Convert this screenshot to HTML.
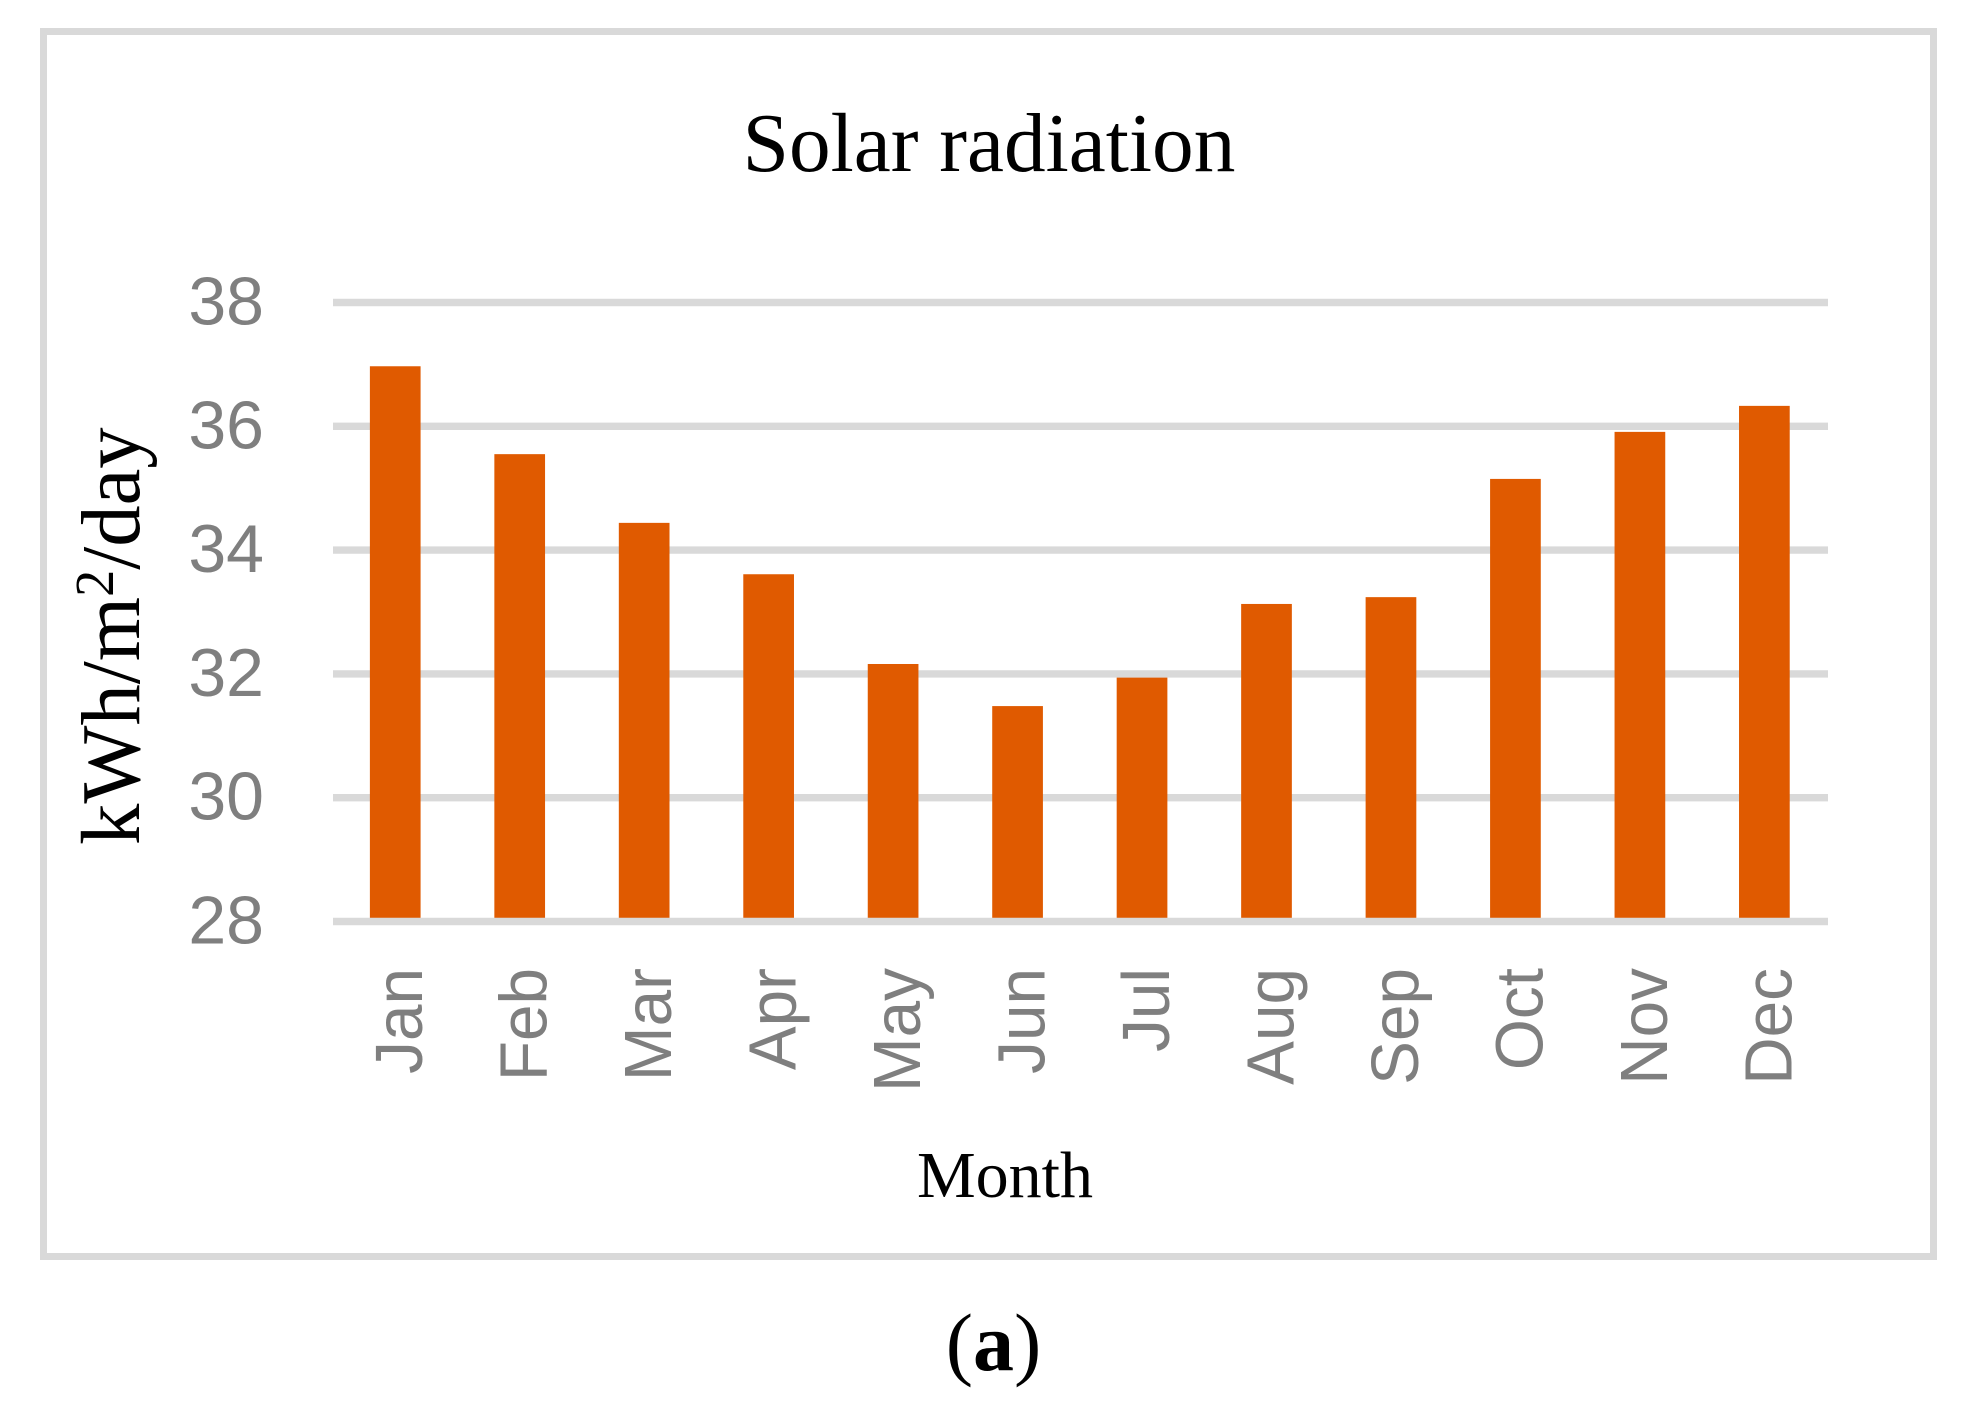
<!DOCTYPE html>
<html lang="en">
<head>
<meta charset="utf-8">
<title>Solar radiation</title>
<style>
  html, body { margin: 0; padding: 0; background: #ffffff; }
  body { width: 1961px; height: 1410px; overflow: hidden; }
  svg { display: block; }
  .serif { font-family: "Liberation Serif", serif; fill: #000000; }
  .tick { font-family: "Liberation Sans", sans-serif; fill: #7f7f7f; }
</style>
</head>
<body>
<svg id="chart" xmlns="http://www.w3.org/2000/svg" width="1961" height="1410" viewBox="0 0 1961 1410">
  <rect x="0" y="0" width="1961" height="1410" fill="#ffffff"/>
  <rect x="43.5" y="31.5" width="1890" height="1225" fill="#ffffff" stroke="#d9d9d9" stroke-width="7"/>
  <g id="gridlines"></g>
  <g id="bars"></g>
  <g id="baseline"></g>
  <g id="yticks"></g>
  <g id="xticks"></g>
  <text class="serif" x="989" y="171" font-size="83.3" text-anchor="middle">Solar radiation</text>
  <text class="serif" transform="translate(139 845) rotate(-90) scale(0.985 1)" font-size="84" text-anchor="start">kWh/m<tspan font-size="55" dy="-26">2</tspan><tspan dy="26">/day</tspan></text>
  <text class="serif" x="1005" y="1197" font-size="66" text-anchor="middle">Month</text>
  <text class="serif" x="993.5" y="1370" font-size="82" text-anchor="middle">(<tspan font-weight="bold">a</tspan>)</text>
</svg>
<script>
const categories = ["Jan", "Feb", "Mar", "Apr", "May", "Jun", "Jul", "Aug", "Sep", "Oct", "Nov", "Dec"];
const radiationValues = [36.97, 35.55, 34.44, 33.61, 32.16, 31.48, 31.94, 33.13, 33.24, 35.15, 35.91, 36.33];
const yTickValues = [28, 30, 32, 34, 36, 38];

const SVG_NS = "http://www.w3.org/2000/svg";
const plot = { left: 333, right: 1828, top: 302.5, bottom: 921.5 };
const bandLeft = 333;
const bandRight = 1826.6;
const yMin = 28;
const yMax = 38;
const barWidth = 50.7;

function yScale(v) {
  return plot.bottom - (v - yMin) / (yMax - yMin) * (plot.bottom - plot.top);
}
function xCenter(i) {
  return bandLeft + (i + 0.5) * (bandRight - bandLeft) / categories.length;
}
function make(tag, attrs, parent) {
  const el = document.createElementNS(SVG_NS, tag);
  for (const key in attrs) el.setAttribute(key, attrs[key]);
  parent.appendChild(el);
  return el;
}

const gridGroup = document.getElementById("gridlines");
const barGroup = document.getElementById("bars");
const baseGroup = document.getElementById("baseline");
const yGroup = document.getElementById("yticks");
const xGroup = document.getElementById("xticks");

yTickValues.forEach(function (t) {
  const target = t === yMin ? baseGroup : gridGroup;
  const line = make("line", { x1: plot.left, x2: plot.right, y1: yScale(t), y2: yScale(t), stroke: "#d9d9d9", "stroke-width": 7.4 }, target);
  
  

  const label = make("text", { x: 264, y: yScale(t) + 22, "text-anchor": "end", "font-size": 68, class: "tick" }, yGroup);
  label.textContent = String(t);
  
  
});

categories.forEach(function (name, i) {
  const top = yScale(radiationValues[i]);
  const bar = make("rect", { x: xCenter(i) - barWidth / 2, y: top, width: barWidth, height: yScale(yMin) - top, fill: "#e05a00" }, barGroup);
  
  

  const label = make("text", {
    transform: "translate(" + (xCenter(i) + 27) + " 968) rotate(-90) scale(0.98 1)",
    "text-anchor": "end",
    "font-size": 67,
    class: "tick"
  }, xGroup);
  label.textContent = name;
  
  
});
</script>
</body>
</html>
